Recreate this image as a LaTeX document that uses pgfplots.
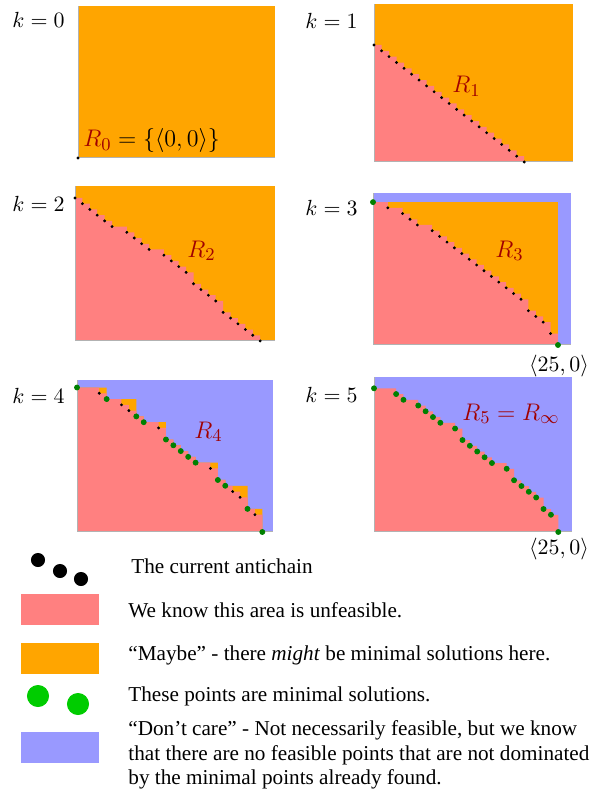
\documentclass[border=0pt]{standalone}
\usepackage{fontspec}
\setmainfont{Liberation Serif}
\usepackage{pgfplots}
\pgfplotsset{compat=1.18}
\definecolor{pinkc}{RGB}{255,128,128}
\definecolor{orangec}{RGB}{255,165,0}
\definecolor{bluec}{RGB}{153,153,255}
\definecolor{redc}{RGB}{160,0,0}
\definecolor{greenc}{RGB}{0,128,0}
\definecolor{lgreen}{RGB}{0,204,0}
\pgfplotsset{
 panel/.style={scale only axis, anchor=south west, clip=false, axis on top,
   axis x line*=bottom, axis y line*=left, xtick=\empty, ytick=\empty,
   axis line style={gray!60, line width=0.5pt}, xmin=0, ymin=0},
 stair/.style={const plot, draw=none, fill=pinkc, forget plot},
 ostair/.style={const plot, draw=none, fill=orangec, forget plot},
 adots/.style={only marks, mark=*, mark size=0.5pt, black},
 gdots/.style={only marks, mark=*, mark size=1.25pt, greenc, mark options={draw=greenc, fill=greenc}},
}
\newcommand{\fullstair}{(0,25)(3,24)(4,23)(6,22)(7,21)(8,20)(9,19)(11,18)(12,16)(13,15)(14,14)(15,13)(16,12)(18,11)(19,9)(20,8)(21,7)(22,6)(23,4)(24,3)(25,0)}
\begin{document}
\begin{tikzpicture}
\path[use as bounding box] (0,0) rectangle (296.5pt,395.5pt);
% k = 0
\begin{axis}[panel, at={(39pt,316.5pt)}, width=98.5pt, height=76pt, xmax=26.8, ymax=26.8,
  axis background/.style={fill=orangec}]
 \addplot[adots] coordinates {(0,0)};
\end{axis}
% k = 1
\begin{axis}[panel, at={(187pt,314.5pt)}, width=99.5pt, height=79pt, xmax=26.5, ymax=27,
  axis background/.style={fill=orangec}]
 \addplot[stair] coordinates {(0,20)(1,19)(2,18)(3,17)(4,16)(5,15)(6,14)(7,13)(8,12)(9,11)(10,10)(11,9)(12,8)(13,7)(14,6)(15,5)(16,4)(17,3)(18,2)(19,1)(20,0)} \closedcycle;
 \addplot[adots] coordinates {(0,20)(1,19)(2,18)(3,17)(4,16)(5,15)(6,14)(7,13)(8,12)(9,11)(10,10)(11,9)(12,8)(13,7)(14,6)(15,5)(16,4)(17,3)(18,2)(19,1)(20,0)};
\end{axis}
% k = 2
\begin{axis}[panel, at={(37.5pt,225pt)}, width=100pt, height=77.5pt, xmax=27, ymax=27.1,
  axis background/.style={fill=orangec}]
 \addplot[stair] coordinates {(0,25)(1,24)(2,23)(3,22)(4,21)(5,20)(7,19)(8,18)(9,17)(10,16)(12,15)(13,14)(14,13)(15,12)(16,10)(17,9)(18,8)(19,7)(20,5)(21,4)(22,3)(23,2)(24,1)(25,0)} \closedcycle;
 \addplot[adots] coordinates {(0,25)(1,24)(2,23)(3,22)(4,21)(5,20)(7,19)(8,18)(9,17)(10,16)(12,15)(13,14)(14,13)(15,12)(16,10)(17,9)(18,8)(19,7)(20,5)(21,4)(22,3)(23,2)(24,1)(25,0)};
\end{axis}
% k = 3
\begin{axis}[panel, at={(186.5pt,223pt)}, width=99pt, height=76pt, xmax=26.76, ymax=26.6,
  axis background/.style={fill=bluec}]
 \addplot[fill=orangec, draw=none] coordinates {(0,0)(25,0)(25,25)(0,25)} -- cycle;
 \addplot[stair] coordinates {(0,25)(2,24)(4,23)(5,22)(6,21)(8,20)(9,19)(10,18)(11,17)(12,16)(13,15)(14,14)(15,13)(16,12)(17,11)(18,10)(19,9)(20,8)(21,6)(22,5)(23,4)(24,2)(25,0)} \closedcycle;
 \addplot[adots] coordinates {(2,24)(4,23)(5,22)(6,21)(8,20)(9,19)(10,18)(11,17)(12,16)(13,15)(14,14)(15,13)(16,12)(17,11)(18,10)(19,9)(20,8)(21,6)(22,5)(23,4)(24,2)};
 \addplot[gdots] coordinates {(0,25)(25,0)};
\end{axis}
% k = 4
\begin{axis}[panel, at={(38.5pt,129.5pt)}, width=98pt, height=76pt, xmax=26.44, ymax=26.3,
  axis background/.style={fill=bluec}]
 \addplot[ostair] coordinates {(0,25)(4,23)(8,20)(9,19)(12,16)(13,15)(14,14)(15,13)(16,12)(19,9)(20,8)(23,4)(25,0)} \closedcycle;
 \addplot[stair] coordinates {\fullstair} \closedcycle;
 \addplot[adots] coordinates {(3,24)(6,22)(7,21)(11,18)(18,11)(21,7)(22,6)(24,3)};
 \addplot[gdots] coordinates {(0,25)(4,23)(8,20)(9,19)(12,16)(13,15)(14,14)(15,13)(16,12)(19,9)(20,8)(23,4)(25,0)};
\end{axis}
% k = 5
\begin{axis}[panel, at={(187pt,129.5pt)}, width=99pt, height=77.5pt, xmax=26.86, ymax=26.97,
  axis background/.style={fill=bluec}]
 \addplot[stair] coordinates {\fullstair} \closedcycle;
 \addplot[gdots] coordinates {\fullstair};
\end{axis}
% frame axis in pixel coordinates (drawn last, on top)
\begin{axis}[at={(0pt,0pt)}, anchor=south west, scale only axis, width=296.5pt, height=395.5pt,
  xmin=0, xmax=593, ymin=0, ymax=791, y dir=reverse, hide axis, clip=false]
 % k labels
 \begin{scope}[every node/.style={anchor=base east, inner sep=0pt, font=\fontsize{11.3}{13}\selectfont}]
 \node at (axis cs:65,28) {$k=0$};
 \node at (axis cs:358,29) {$k=1$};
 \node at (axis cs:65,212) {$k=2$};
 \node at (axis cs:358,215) {$k=3$};
 \node at (axis cs:65,403) {$k=4$};
 \node at (axis cs:358,402) {$k=5$};
 \end{scope}
 % region labels
 \begin{scope}[every node/.style={anchor=base west, inner sep=0pt, font=\fontsize{12.5}{15}\selectfont}]
 \node at (axis cs:83,147) {${\color{redc}R_0}=\{\langle 0,0\rangle\}$};
 \node[text=redc] at (axis cs:452,93) {$R_1$};
 \node[text=redc] at (axis cs:187,257) {$R_2$};
 \node[text=redc] at (axis cs:495,257) {$R_3$};
 \node[text=redc] at (axis cs:194,438) {$R_4$};
 \node[text=redc] at (axis cs:462,420) {$R_5=R_\infty$};
 \end{scope}
 \node[font=\fontsize{11}{13}\selectfont] at (axis cs:559,366) {$\langle 25,0\rangle$};
 \node[font=\fontsize{11}{13}\selectfont] at (axis cs:559,549) {$\langle 25,0\rangle$};
 % legend symbols
 \addplot[only marks, mark=*, black, mark size=3.3pt] coordinates {(38,560)(60,571)(81,579)};
 \addplot[only marks, mark=*, lgreen, mark size=5.3pt, mark options={draw=lgreen, fill=lgreen}] coordinates {(38,696)(78,704)};
 \addplot[fill=pinkc, draw=none] coordinates {(21,594)(99,594)(99,625)(21,625)} -- cycle;
 \addplot[fill=orangec, draw=none] coordinates {(21,643)(99,643)(99,674)(21,674)} -- cycle;
 \addplot[fill=bluec, draw=none] coordinates {(21,732)(99,732)(99,763)(21,763)} -- cycle;
 % legend text
 \begin{scope}[every node/.style={anchor=base west, inner sep=0pt, font=\fontsize{10.6}{12.4}\selectfont}]
 \node at (axis cs:131,573) {The current antichain};
 \node at (axis cs:128,617) {We know this area is unfeasible.};
 \node at (axis cs:128,660) {“Maybe” - there \textit{might} be minimal solutions here.};
 \node at (axis cs:128,701) {These points are minimal solutions.};
 \node at (axis cs:128,735) {“Don’t care” - Not necessarily feasible, but we know};
 \node at (axis cs:128,760) {that there are no feasible points that are not dominated};
 \node at (axis cs:128,784) {by the minimal points already found.};
 \end{scope}
\end{axis}
\end{tikzpicture}
\end{document}
